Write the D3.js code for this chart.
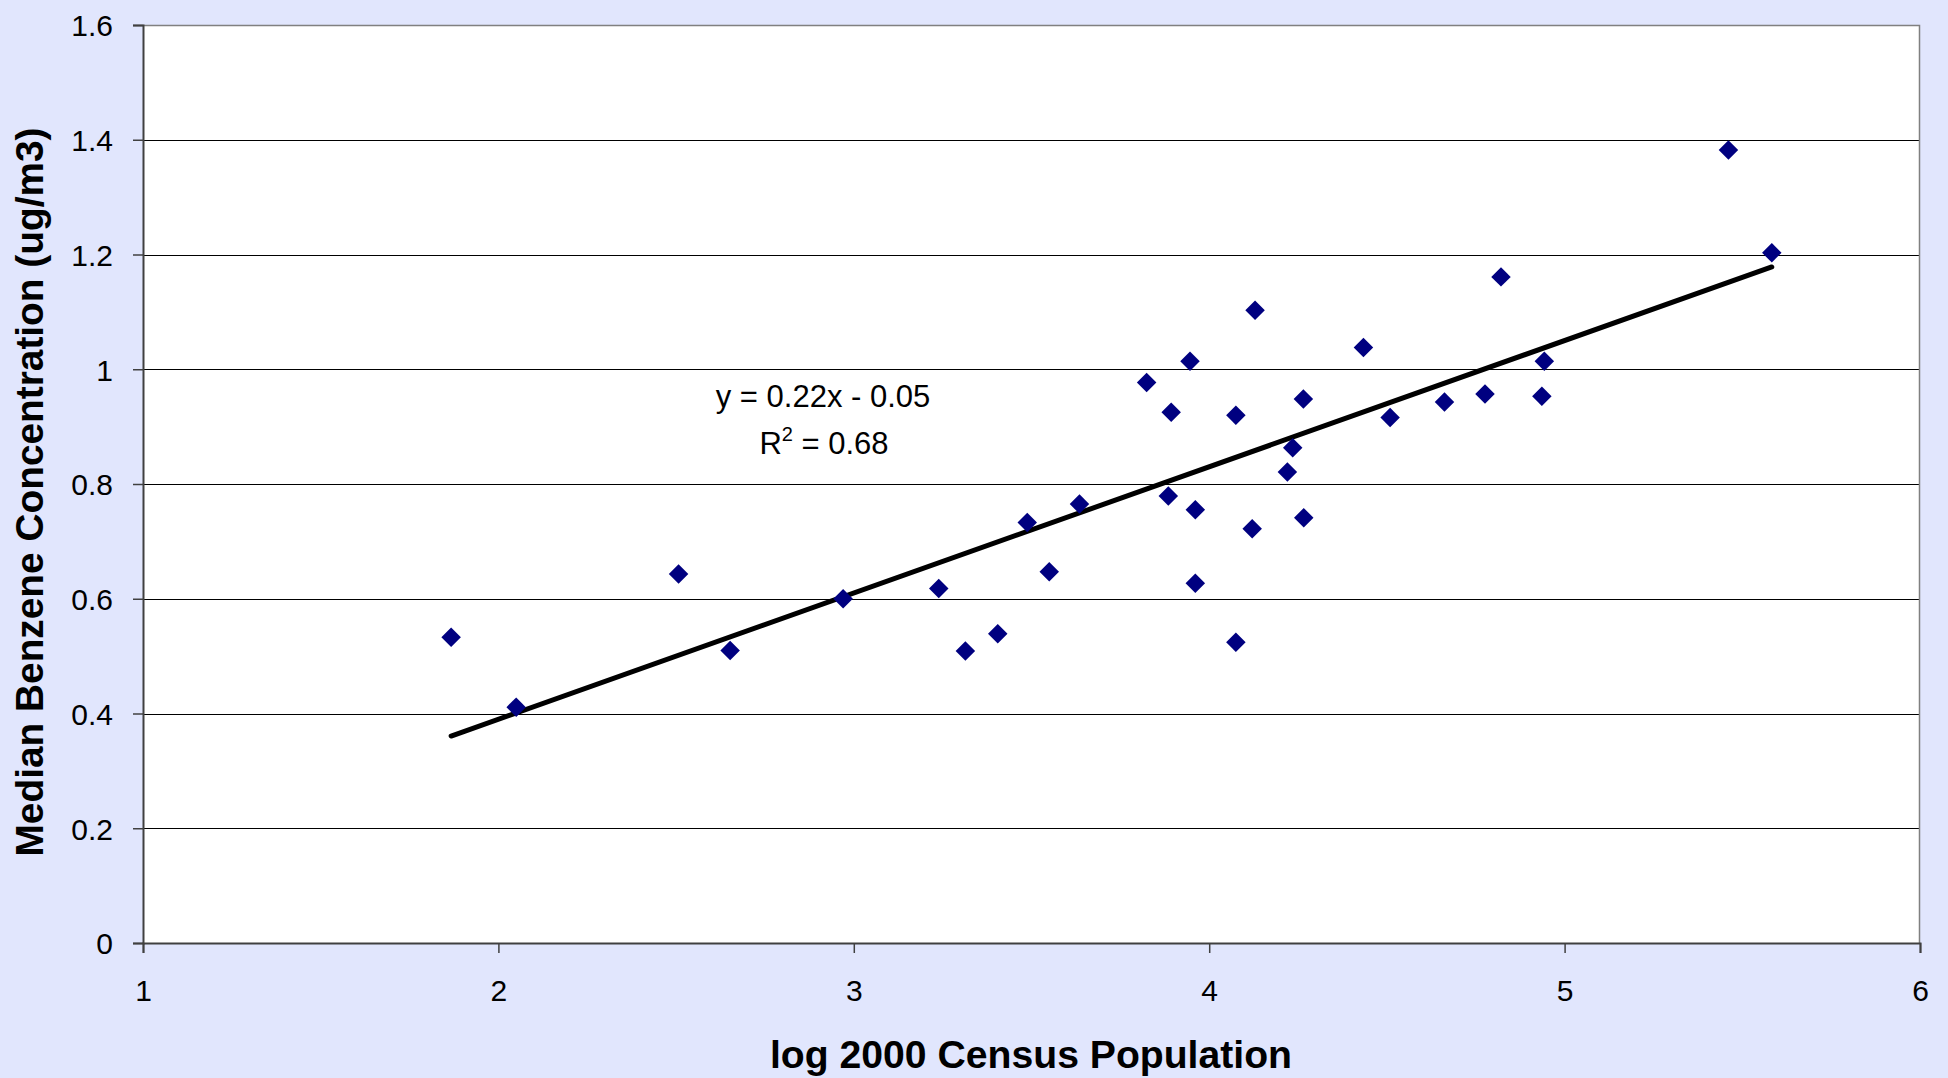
<!DOCTYPE html>
<html>
<head>
<meta charset="utf-8">
<script src="https://cdn.jsdelivr.net/npm/d3@7"></script>
<style>
  html, body { margin: 0; padding: 0; background: #E1E6FD; }
  svg { display: block; }
  text { font-family: "Liberation Sans", Arial, sans-serif; fill: #000; }
</style>
</head>
<body>
<script>
// log10 of 2000 census population for each site
const logPopulation = [
  1.867, 2.050, 2.507, 2.652, 2.970, 3.239, 3.314, 3.405, 3.488, 3.550,
  3.635, 3.824, 3.885, 3.893, 3.946, 3.961, 3.961, 4.075, 4.075, 4.121,
  4.129, 4.220, 4.235, 4.265, 4.266, 4.434, 4.509, 4.662, 4.776, 4.821,
  4.936, 4.943, 5.461, 5.583
];
// median benzene concentration (ug/m3) at the same sites
const medianBenzene = [
  0.533, 0.411, 0.643, 0.510, 0.600, 0.618, 0.509, 0.539, 0.733, 0.647,
  0.765, 0.977, 0.779, 0.925, 1.014, 0.755, 0.627, 0.920, 0.524, 0.722,
  1.103, 0.821, 0.863, 0.948, 0.741, 1.038, 0.916, 0.943, 0.957, 1.161,
  0.953, 1.014, 1.382, 1.203
];
// linear trend line as stated in the annotation
const trendSlope = 0.22;
const trendIntercept = -0.05;
const trendLabel = "y = 0.22x - 0.05";
const rSquaredLabel = "0.68";

const xTicks = [1, 2, 3, 4, 5, 6];
const yTicks = [0, 0.2, 0.4, 0.6, 0.8, 1, 1.2, 1.4, 1.6];
const xTitle = "log 2000 Census Population";
const yTitle = "Median Benzene Concentration (ug/m3)";

const W = 1948, H = 1078;
const plot = { left: 143, right: 1920, top: 25, bottom: 943 };

const svg = d3.select("body").append("svg")
  .attr("width", W).attr("height", H);

svg.append("rect").attr("width", W).attr("height", H).attr("fill", "#E1E6FD");

const x = d3.scaleLinear().domain([1, 6]).range([plot.left, plot.right]);
const y = d3.scaleLinear().domain([0, 1.6]).range([plot.bottom, plot.top]);

// plot area
svg.append("rect")
  .attr("x", plot.left).attr("y", plot.top)
  .attr("width", plot.right - plot.left).attr("height", plot.bottom - plot.top)
  .attr("fill", "#fff");

// horizontal gridlines
svg.append("g")
  .selectAll("line")
  .data(yTicks.filter(v => v > 0 && v < 1.6))
  .join("line")
  .attr("x1", plot.left).attr("x2", plot.right)
  .attr("y1", d => Math.round(y(d)) + 0.5).attr("y2", d => Math.round(y(d)) + 0.5)
  .attr("stroke", "#000").attr("stroke-width", 1);

// top and right frame
svg.append("path")
  .attr("d", `M${plot.left},${plot.top + 0.5}H${plot.right - 0.5}V${plot.bottom}`)
  .attr("fill", "none").attr("stroke", "#808080").attr("stroke-width", 1.5);

// y axis
const yAxis = d3.axisLeft(y).tickValues(yTicks).tickSize(10).tickPadding(20)
  .tickFormat(d => d3.format("")(+d.toFixed(1)));
const gy = svg.append("g").attr("transform", `translate(${plot.left},0)`).call(yAxis);
gy.select(".domain").attr("stroke", "#404040").attr("stroke-width", 2);
gy.selectAll(".tick line").attr("stroke", "#404040").attr("stroke-width", 1.5);
gy.selectAll(".tick text").attr("font-size", 30).attr("dy", "0.36em")
  .attr("font-family", "Liberation Sans, Arial, sans-serif").attr("fill", "#000");

// x axis
const xAxis = d3.axisBottom(x).tickValues(xTicks).tickSize(10).tickPadding(27)
  .tickFormat(d3.format("d"));
const gx = svg.append("g").attr("transform", `translate(0,${plot.bottom})`).call(xAxis);
gx.select(".domain").attr("stroke", "#404040").attr("stroke-width", 2);
gx.selectAll(".tick line").attr("stroke", "#404040").attr("stroke-width", 1.5);
gx.selectAll(".tick text").attr("font-size", 30)
  .attr("font-family", "Liberation Sans, Arial, sans-serif").attr("fill", "#000");

// trend line across the range of the data
const xExtent = d3.extent(logPopulation);
const trendPts = xExtent.map(v => [v, trendSlope * v + trendIntercept]);
svg.append("path")
  .datum(trendPts)
  .attr("d", d3.line().x(d => x(d[0])).y(d => y(d[1])))
  .attr("fill", "none").attr("stroke", "#000").attr("stroke-width", 5)
  .attr("stroke-linecap", "round");

// data markers: navy diamonds
const points = logPopulation.map((v, i) => ({ x: v, y: medianBenzene[i] }));
const diamond = d3.symbol().type(d3.symbolSquare).size(190);
svg.append("g")
  .selectAll("path")
  .data(points)
  .join("path")
  .attr("d", diamond)
  .attr("transform", d => `translate(${x(d.x)},${y(d.y)}) rotate(45)`)
  .attr("fill", "#000080");

// regression annotation
const ann = svg.append("g").attr("font-size", 31).attr("text-anchor", "middle");
ann.append("text").attr("x", 823).attr("y", 407).text(trendLabel);
const r2 = ann.append("text").attr("x", 824).attr("y", 454);
r2.append("tspan").text("R");
r2.append("tspan").attr("font-size", 20).attr("dy", -13).text("2");
r2.append("tspan").attr("dy", 13).text(" = " + rSquaredLabel);

// axis titles
svg.append("text")
  .attr("x", 1031).attr("y", 1068)
  .attr("text-anchor", "middle").attr("font-weight", "bold").attr("font-size", 39)
  .attr("textLength", 522).attr("lengthAdjust", "spacingAndGlyphs")
  .text(xTitle);

svg.append("text")
  .attr("transform", "translate(43,492) rotate(-90)")
  .attr("text-anchor", "middle").attr("font-weight", "bold").attr("font-size", 39)
  .attr("textLength", 729).attr("lengthAdjust", "spacingAndGlyphs")
  .text(yTitle);
</script>
</body>
</html>
